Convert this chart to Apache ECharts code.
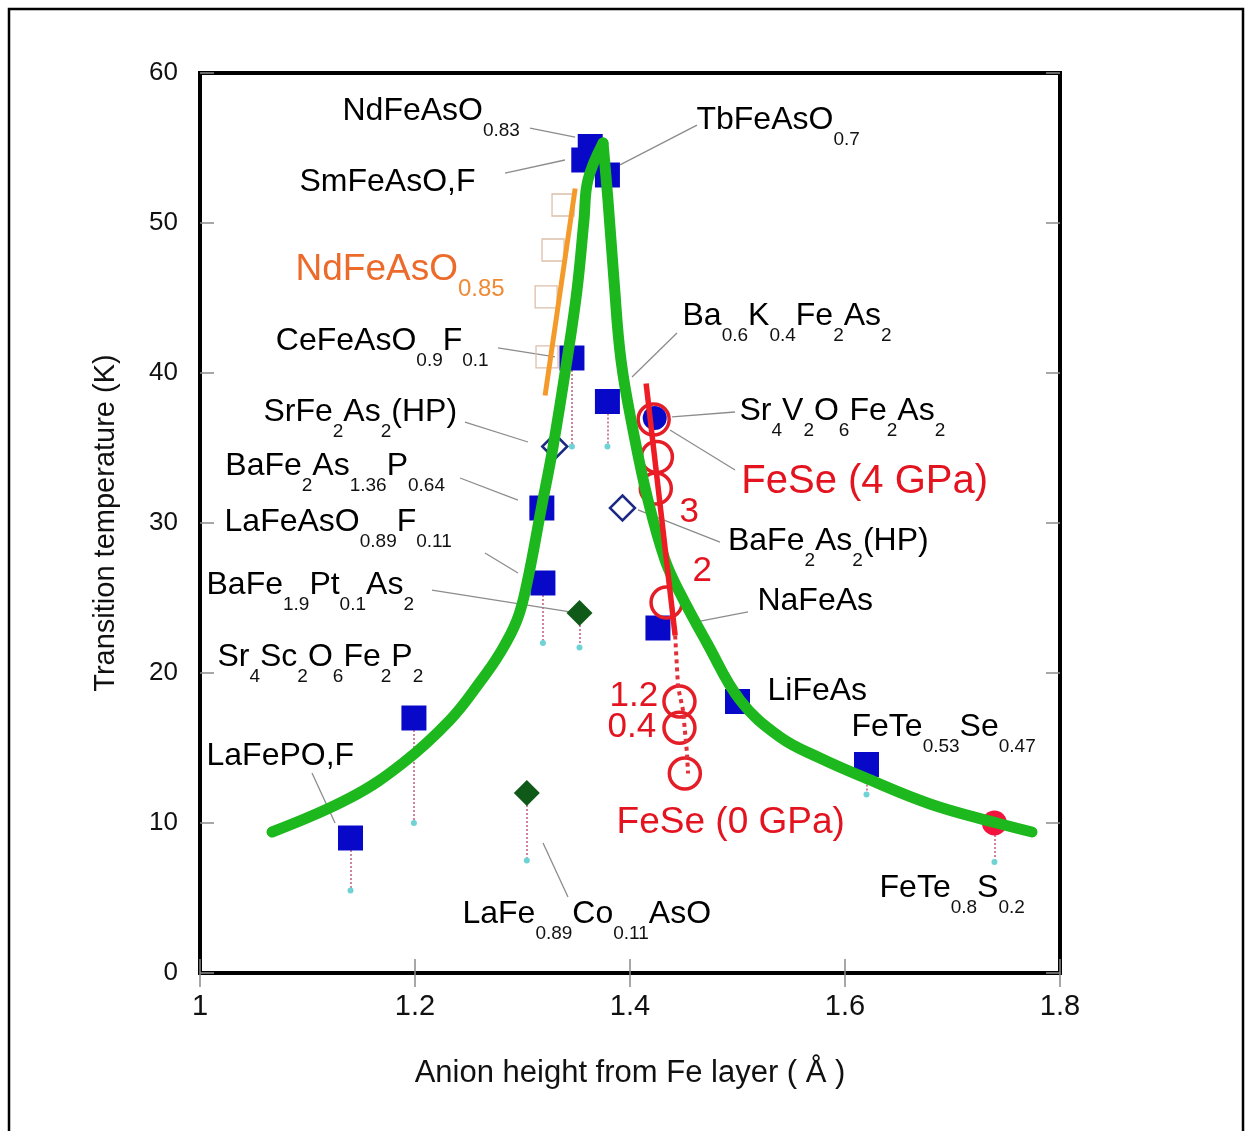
<!DOCTYPE html>
<html><head><meta charset="utf-8">
<script src="https://cdn.jsdelivr.net/npm/echarts/dist/echarts.min.js"></script>
<style>html,body{margin:0;padding:0;background:#fff}#c{width:1253px;height:1131px}</style>
</head><body><div id="c"></div>
<script>
// ---------- data ----------
const xTicks = [1, 1.2, 1.4, 1.6, 1.8];
const yTicks = [0, 10, 20, 30, 40, 50, 60];

// Blue filled squares [anion height, Tc]
const blueSquares = [[1.363,55.1],[1.357,54.2],[1.379,53.2],[1.346,41.0],[1.379,38.1],[1.318,31.0],[1.319,26.0],[1.199,17.0],[1.140,9.0],[1.426,23.0],[1.500,18.1],[1.620,13.9]];
// Open navy diamonds (HP)
const openDiamonds = [[1.330,35.1],[1.393,31.0]];
// Dark green filled diamonds
const greenDiamonds = [[1.353,24.0],[1.304,12.0]];
// Sr4V2O6Fe2As2 (blue circle)
const blueCircles = [[1.423,37.0]];
// FeTe0.8S0.2 (red dot)
const redDots = [[1.739,10.0]];
// FeSe under pressure (open red circles)
const feseCircles = [[1.422,36.9],[1.425,34.4],[1.424,32.3],[1.434,24.7],[1.446,18.1],[1.446,16.35],[1.451,13.3]];
// FeSe trend line (solid) and extension (dotted)
const feseSolid = [[1.415,39.3],[1.442,22.5]];
const feseDotted = [[1.442,22.5],[1.4447,19.07],[1.4493,17.53],[1.453,14.67],[1.454,13.3]];
// NdFeAsO0.85 faint open squares and orange line
const ndSquares = [[1.3377,51.2],[1.3284,48.2],[1.322,45.07],[1.3228,41.07]];
const ndLine = [[1.349,52.3],[1.321,38.5]];
// Green guide curve (two branches meeting at the peak)
const greenLeft = [[1.067,9.4],[1.1395,11.67],[1.1888,14.0],[1.2326,16.87],[1.2605,19.4],[1.2791,21.33],[1.2949,23.53],[1.3042,26.0],[1.3172,30.87],[1.3284,35.07],[1.3414,40.87],[1.3507,45.53],[1.3572,50.2],[1.3609,52.87],[1.3749,55.33]];
const greenRight = [[1.3749,55.33],[1.3795,51.53],[1.3851,46.2],[1.3916,40.87],[1.4028,36.2],[1.4167,31.53],[1.4326,27.53],[1.4465,25.33],[1.4716,22.0],[1.5023,18.2],[1.5395,15.73],[1.5767,14.33],[1.6167,13.07],[1.6791,11.27],[1.7414,10.0],[1.774,9.4]];
// Dotted drops to onset values: [x, Tc, lower]
const drops = [[1.346,41.0,35.1],[1.379,38.1,35.1],[1.319,26.0,22.0],[1.353,24.0,21.7],[1.199,17.0,10.0],[1.140,9.0,5.5],[1.304,12.0,7.5],[1.620,13.9,11.9],[1.739,10.0,7.4]];

// Compound labels ({} = subscript) and their anchors (left edge, middle)
const labelNames = ['NdFeAsO{0.83}','SmFeAsO,F','TbFeAsO{0.7}','CeFeAsO{0.9}F{0.1}','Ba{0.6}K{0.4}Fe{2}As{2}','SrFe{2}As{2}(HP)','BaFe{2}As{1.36}P{0.64}','LaFeAsO{0.89}F{0.11}','BaFe{1.9}Pt{0.1}As{2}','Sr{4}Sc{2}O{6}Fe{2}P{2}','LaFePO,F','LaFe{0.89}Co{0.11}AsO','Sr{4}V{2}O{6}Fe{2}As{2}','BaFe{2}As{2}(HP)','NaFeAs','LiFeAs','FeTe{0.53}Se{0.47}','FeTe{0.8}S{0.2}'];
const labelAnchors = [[1.133,57.4],[1.093,52.7],[1.4623,56.8],[1.071,42.07],[1.4493,43.73],[1.0595,37.33],[1.024,33.73],[1.0233,30.0],[1.0065,25.8],[1.0167,21.0],[1.0065,14.4],[1.2446,3.87],[1.5023,37.4],[1.4916,28.73],[1.519,24.73],[1.5284,18.73],[1.6065,16.33],[1.6326,5.6]];
const redNames = ['FeSe (4 GPa)','FeSe (0 GPa)'];
const redAnchors = [[1.504,32.67],[1.388,10.0]];
const pressureNames = ['3','2','1.2','0.4'];
const pressureAnchors = [[1.4465,30.67],[1.4586,26.73],[1.3814,18.4],[1.3795,16.33]];
const orangeName = 'NdFeAsO{0.85}';
const orangeAnchor = [1.0893,46.87];
// Leader lines from labels to markers
const leaders = [
  [[1.307,56.33],[1.349,55.73]],[[1.2837,53.33],[1.3395,54.2]],[[1.4623,56.53],[1.3907,53.87]],
  [[1.2772,41.67],[1.3302,41.07]],[[1.4437,42.67],[1.4019,39.73]],[[1.2465,36.73],[1.3051,35.4]],
  [[1.2419,33.0],[1.2958,31.53]],[[1.2651,28.0],[1.2958,26.67]],[[1.2158,25.53],[1.3442,24.07]],
  [[1.1042,13.33],[1.1256,10.0]],[[1.3191,8.67],[1.3423,5.07]],[[1.4391,37.07],[1.4977,37.4]],
  [[1.4372,36.2],[1.4977,33.53]],[[1.4074,30.87],[1.4837,28.73]],[[1.4558,23.33],[1.5098,24.07]]
];

// ---------- chart ----------
const FONT = '"Liberation Sans", Arial, sans-serif';
function toRich(str, cls) {
  return str.replace(/([^{}]+)|\{([^{}]*)\}/g, (m, a, b) => a ? '{' + cls + '|' + a + '}' : '{' + cls + 's|' + b + '}');
}
const richStyles = {
  n:  {fontSize: 32, lineHeight: 58, color: '#000', fontFamily: FONT},
  ns: {fontSize: 19, color: '#111', fontFamily: FONT, verticalAlign: 'bottom'},
  o:  {fontSize: 37, lineHeight: 64, color: '#ec6a2a', fontFamily: FONT},
  os: {fontSize: 24, color: '#ef8a35', fontFamily: FONT, verticalAlign: 'bottom'},
  r:  {fontSize: 40, color: '#e3141f', fontFamily: FONT},
  rr: {fontSize: 37, color: '#e3141f', fontFamily: FONT},
  p:  {fontSize: 35, color: '#e3141f', fontFamily: FONT}
};
const labelData = [];
labelNames.forEach((s, i) => labelData.push({value: labelAnchors[i], txt: toRich(s, 'n')}));
labelData.push({value: orangeAnchor, txt: toRich(orangeName, 'o')});
redNames.forEach((s, i) => labelData.push({value: redAnchors[i], txt: '{' + (i === 0 ? 'r' : 'rr') + '|' + s + '}'}));
pressureNames.forEach((s, i) => labelData.push({value: pressureAnchors[i], txt: '{p|' + s + '}'}));

const tickStyle = {inside: true, length: 14, lineStyle: {color: '#8a8a8a', width: 1.5}};
const greenStyle = {color: '#1db81d', width: 11, cap: 'round', join: 'round'};
function sc(data, symbol, size, item) {
  return {type: 'scatter', silent: true, data: data, symbol: symbol, symbolSize: size,
          itemStyle: Object.assign({opacity: 1}, item)};
}
const chart = echarts.init(document.getElementById('c'), null, {renderer: 'canvas'});
chart.setOption({
  animation: false,
  backgroundColor: '#fff',
  graphic: [{type: 'rect', shape: {x: 9, y: 9, width: 1234, height: 1150}, style: {fill: 'none', stroke: '#000', lineWidth: 2.5}, silent: true}],
  grid: {left: 200, right: 193, top: 73, bottom: 158, show: true, borderColor: '#000', borderWidth: 4, backgroundColor: 'transparent'},
  xAxis: [
    {type: 'value', min: xTicks[0], max: xTicks[xTicks.length - 1], interval: 0.2, position: 'bottom',
     axisLine: {show: false}, axisTick: tickStyle, splitLine: {show: false},
     axisLabel: {fontSize: 29, color: '#111', margin: 19, fontFamily: FONT, showMinLabel: true, showMaxLabel: true,
       formatter: v => String(parseFloat(v.toFixed(1)))},
     name: 'Anion height from Fe layer ( Å )', nameLocation: 'middle', nameGap: 85,
     nameTextStyle: {fontSize: 31, color: '#111', fontFamily: FONT}},
    {type: 'value', min: xTicks[0], max: xTicks[xTicks.length - 1], interval: 0.2, position: 'top',
     axisLine: {show: false}, axisTick: tickStyle, axisLabel: {show: false}, splitLine: {show: false}}
  ],
  yAxis: [
    {type: 'value', min: yTicks[0], max: yTicks[yTicks.length - 1], interval: 10, position: 'left',
     axisLine: {show: false}, axisTick: tickStyle, splitLine: {show: false},
     axisLabel: {fontSize: 26, color: '#111', margin: 22, fontFamily: FONT},
     name: 'Transition temperature (K)', nameLocation: 'middle', nameGap: 80,
     nameTextStyle: {fontSize: 29, color: '#111', fontFamily: FONT}},
    {type: 'value', min: yTicks[0], max: yTicks[yTicks.length - 1], interval: 10, position: 'right',
     axisLine: {show: false}, axisTick: tickStyle, axisLabel: {show: false}, splitLine: {show: false}}
  ],
  series: [
    {type: 'lines', coordinateSystem: 'cartesian2d', silent: true,
     data: drops.map(d => ({coords: [[d[0], d[1]], [d[0], d[2]]]})),
     lineStyle: {color: '#d0849a', width: 2, type: 'dotted', opacity: 1}},
    sc(drops.map(d => [d[0], d[2]]), 'circle', 6, {color: '#6fd3d6'}),
    {type: 'lines', coordinateSystem: 'cartesian2d', silent: true,
     data: leaders.map(c => ({coords: c})), lineStyle: {color: '#8c8c8c', width: 1.3, opacity: 1}},
    sc(ndSquares, 'rect', 22, {color: 'rgba(255,255,255,0)', borderColor: '#dcc0ab', borderWidth: 1.3}),
    {type: 'line', silent: true, data: greenLeft, smooth: 0.4, showSymbol: false, lineStyle: greenStyle},
    {type: 'line', silent: true, data: greenRight, smooth: 0.4, showSymbol: false, lineStyle: greenStyle},
    {type: 'line', silent: true, data: ndLine, showSymbol: false, lineStyle: {color: '#f39a2b', width: 5}},
    sc(blueSquares, 'rect', 25, {color: '#0808c8'}),
    sc(openDiamonds, 'diamond', 25, {color: 'rgba(255,255,255,0)', borderColor: '#1c2a84', borderWidth: 2.5}),
    sc(greenDiamonds, 'diamond', 26, {color: '#0f5a18'}),
    sc(blueCircles, 'circle', 24, {color: '#0808c8'}),
    sc(redDots, 'circle', 25, {color: '#f2133f'}),
    sc(feseCircles, 'circle', 31, {color: 'rgba(255,255,255,0)', borderColor: '#e51d27', borderWidth: 3.5}),
    {type: 'line', silent: true, data: feseSolid, showSymbol: false, lineStyle: {color: '#ee1c25', width: 5.5}},
    {type: 'line', silent: true, data: feseDotted, showSymbol: false, lineStyle: {color: '#e0303a', width: 4, type: 'dotted'}},
    {type: 'scatter', silent: true, clip: false, data: labelData, symbolSize: 1, itemStyle: {color: 'rgba(0,0,0,0)', opacity: 1},
     label: {show: true, position: [0, 0], align: 'left', verticalAlign: 'middle', color: '#000',
       formatter: p => p.data.txt, rich: richStyles}}
  ]
});
</script></body></html>
